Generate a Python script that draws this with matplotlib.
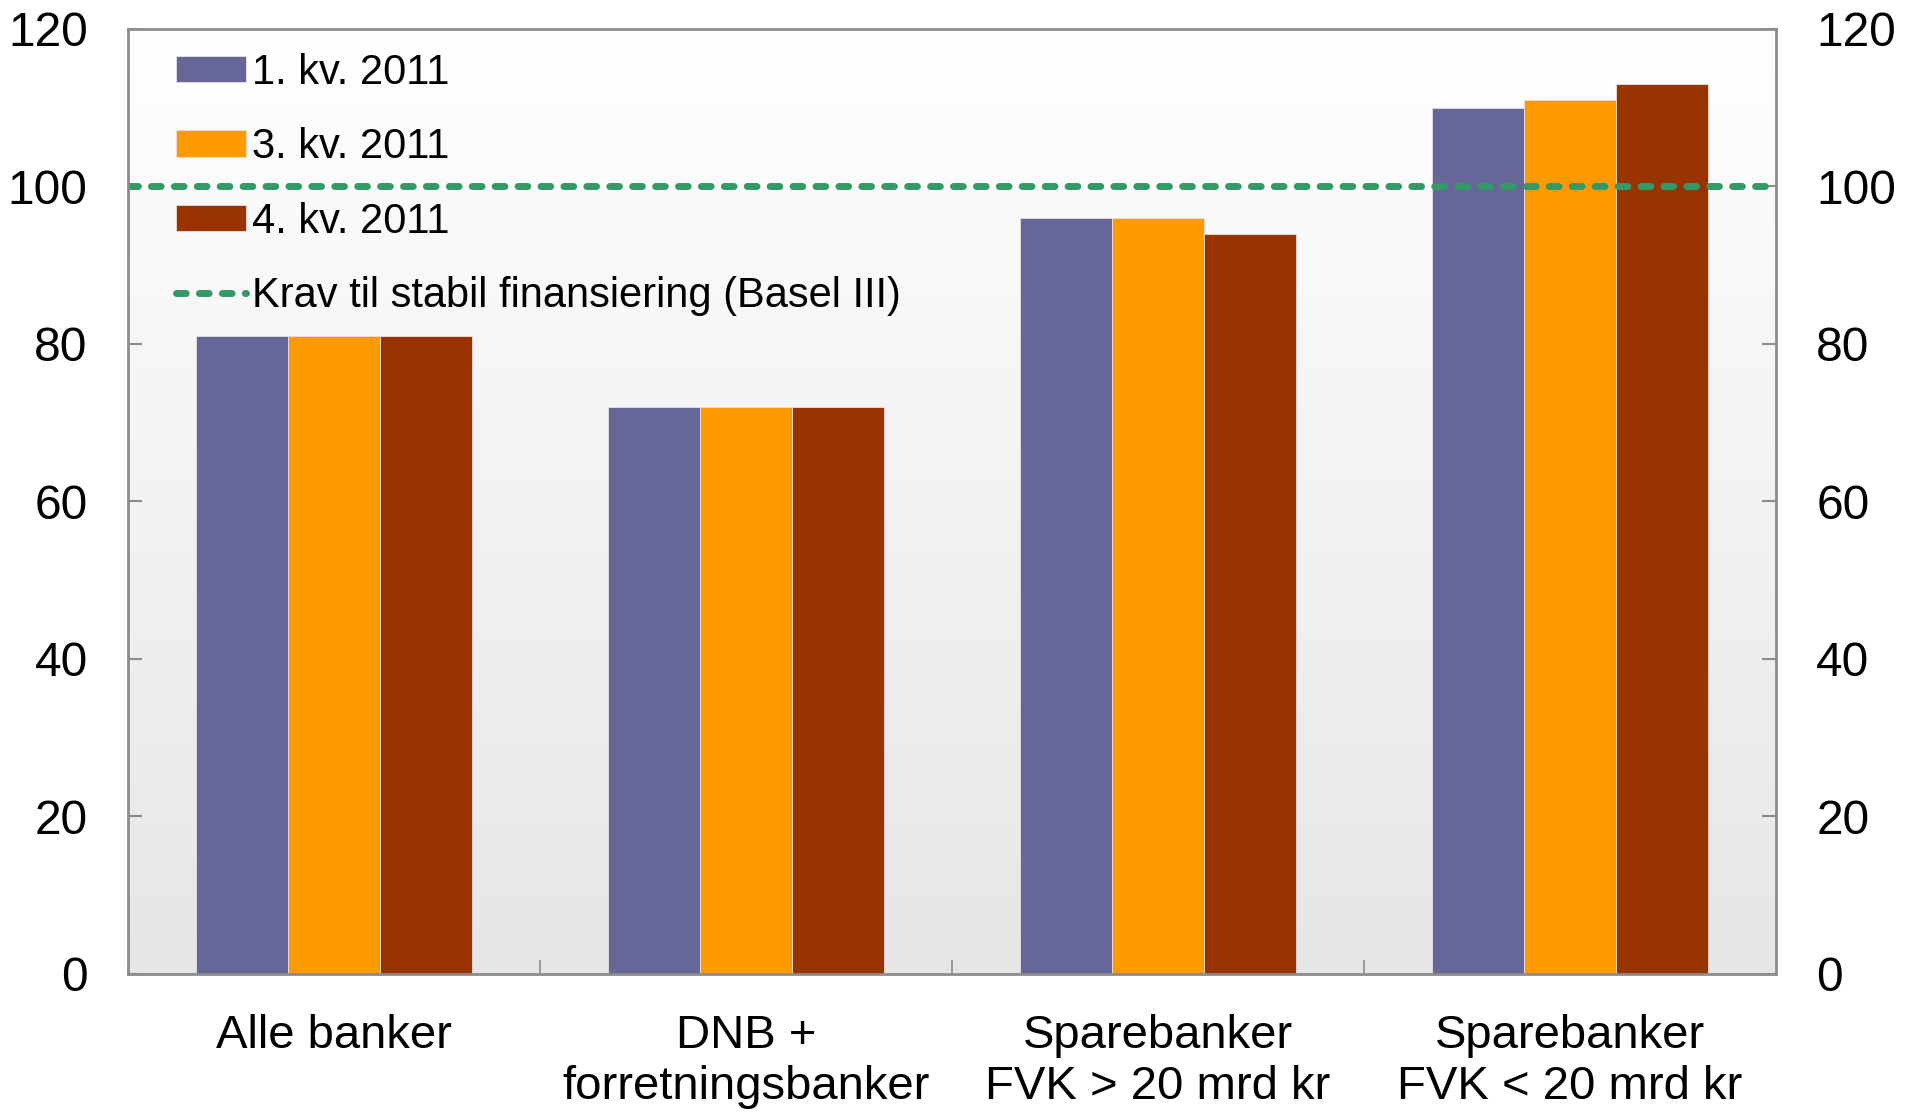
import numpy as np
import matplotlib
matplotlib.use("Agg")
import matplotlib.pyplot as plt

plt.rcParams['font.family'] = ['Liberation Sans', 'DejaVu Sans']
plt.rcParams['lines.scale_dashes'] = False

# data
categories = ["Alle banker", "DNB +\nforretningsbanker",
              "Sparebanker\nFVK > 20 mrd kr", "Sparebanker\nFVK < 20 mrd kr"]
series_names = ["1. kv. 2011", "3. kv. 2011", "4. kv. 2011"]
q1_2011 = [81, 72, 96, 110]
q3_2011 = [81, 72, 96, 111]
q4_2011 = [81, 72, 94, 113]
basel_req = 100
line_name = "Krav til stabil finansiering (Basel III)"
yticks = [0, 20, 40, 60, 80, 100, 120]

colors = ["#666699", "#FF9900", "#993300"]
green = "#339966"
grey = "#8c8c8c"

fig = plt.figure(figsize=(19.05, 11.14), dpi=100)
ax = fig.add_axes([0.0672, 0.1257, 0.8651, 0.8483])

# gradient background
grad = np.linspace(0, 1, 256).reshape(-1, 1)
ax.imshow(grad, cmap=matplotlib.colors.LinearSegmentedColormap.from_list("bg", ["#ffffff", "#e6e6e6"]),
          extent=[0, 1, 0, 1], transform=ax.transAxes, aspect="auto", zorder=0)

x = np.arange(len(categories))
w = 0.223
handles = []
for i, vals in enumerate([q1_2011, q3_2011, q4_2011]):
    b = ax.bar(x + (i - 1) * w, vals, width=w, color=colors[i],
               edgecolor="#e8e0e0", linewidth=0.6, zorder=2, label=series_names[i])
    handles.append(b)

ln = ax.axhline(basel_req, color=green, lw=5, linestyle=(0, (7, 9.5)),
                dash_capstyle="round", zorder=3, label=line_name)
handles.append(ln)

ax.set_xlim(-0.5, len(categories) - 0.5)
ax.set_ylim(0, 120)
ax.set_yticks(yticks)
ax.tick_params(axis="y", direction="in", length=10, width=1.5, color=grey,
               labelsize=34.5, pad=29, left=True, right=True, labelleft=True, labelright=True)
ax.set_xticks(x)
ax.set_xticklabels(categories, fontsize=34, linespacing=1.2)
ax.set_xticks(x[:-1] + 0.5, minor=True)
ax.tick_params(axis="x", which="major", length=0, pad=29)
ax.tick_params(axis="x", which="minor", direction="in", length=10, width=1.2, color=grey)

for s in ax.spines.values():
    s.set_color(grey)
    s.set_linewidth(2)
    s.set_zorder(4)

leg = ax.legend(handles=handles, loc="upper left", bbox_to_anchor=(0.029, 0.975),
                frameon=False, fontsize=30, handlelength=1.68, handleheight=0.6,
                handletextpad=0.15, labelspacing=0.83, borderpad=0, borderaxespad=0)

fig.savefig("out.png", dpi=100)
